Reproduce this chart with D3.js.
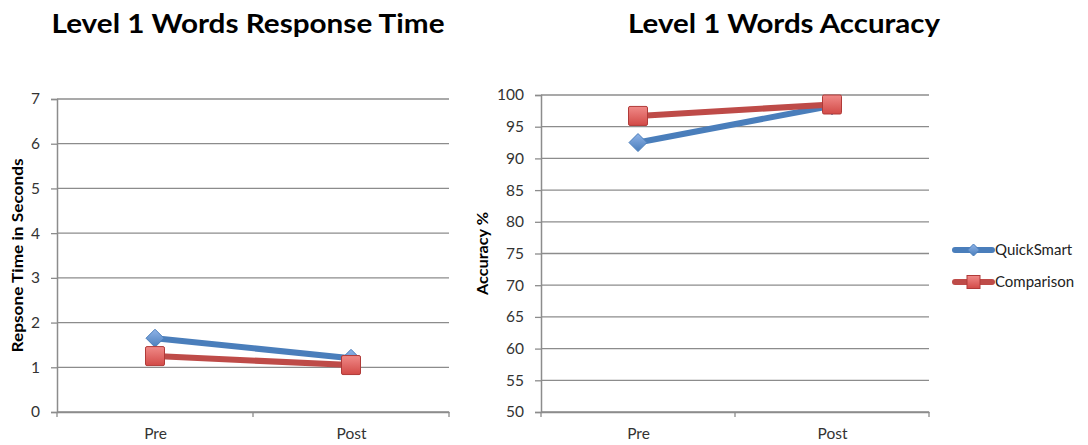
<!DOCTYPE html>
<html>
<head>
<meta charset="utf-8">
<script src="https://cdn.jsdelivr.net/npm/d3@7/dist/d3.min.js"></script>
<style>
  html, body { margin: 0; padding: 0; background: #fff; }
  svg { display: block; }
  text { font-family: Lato, "Open Sans", sans-serif; }
</style>
</head>
<body>
<svg id="chart" width="1088" height="445"></svg>
<script>
// Data
const phases = ["Pre", "Post"];
const seriesNames = ["QuickSmart", "Comparison"];
const rtQuickSmart = [1.65, 1.2];
const rtComparison = [1.25, 1.05];
const accQuickSmart = [92.5, 98.3];
const accComparison = [96.7, 98.5];
const rtTicks = [0, 1, 2, 3, 4, 5, 6, 7];
const accTicks = [50, 55, 60, 65, 70, 75, 80, 85, 90, 95, 100];

const colors = { QuickSmart: "#4a7ebb", Comparison: "#be4b48" };

const svg = d3.select("#chart");

// gradients for markers
const defs = svg.append("defs");
const gRed = defs.append("linearGradient").attr("id", "gRed").attr("x1", 0).attr("y1", 0).attr("x2", 0).attr("y2", 1);
gRed.append("stop").attr("offset", "0%").attr("stop-color", "#f08a88");
gRed.append("stop").attr("offset", "100%").attr("stop-color", "#d24a47");
const gBlue = defs.append("linearGradient").attr("id", "gBlue").attr("x1", 0).attr("y1", 0).attr("x2", 0).attr("y2", 1);
gBlue.append("stop").attr("offset", "0%").attr("stop-color", "#8fb3e8");
gBlue.append("stop").attr("offset", "100%").attr("stop-color", "#4a7ebb");

function drawPanel(opts) {
  const { left, right, top, bottom, domain, ticks, series, title, titleX, titleW, yLabel, yLabelX, yLabelW } = opts;
  const g = svg.append("g");

  const x = d3.scalePoint().domain(phases).range([left, right]).padding(0.5);
  const y = d3.scaleLinear().domain(domain).range([bottom, top]);

  // gridlines
  g.selectAll("line.grid").data(ticks).join("line")
    .attr("x1", left).attr("x2", right)
    .attr("y1", d => y(d)).attr("y2", d => y(d))
    .attr("stroke", "#8c8c8c").attr("stroke-width", 1.3);

  // y axis
  const yAxis = d3.axisLeft(y).tickValues(ticks).tickSize(6).tickPadding(11).tickFormat(d3.format("d"));
  const ya = g.append("g").attr("transform", `translate(${left},0)`).call(yAxis);
  ya.select(".domain").attr("stroke", "#8c8c8c").attr("stroke-width", 1.5);
  ya.selectAll(".tick line").attr("stroke", "#8c8c8c").attr("stroke-width", 1.3);
  ya.selectAll(".tick text").attr("fill", "#333").style("font-size", "15.5px").style("font-family", "Lato, 'Open Sans', sans-serif");

  // x axis
  const xAxis = d3.axisBottom(x).tickSize(0).tickPadding(16);
  const xa = g.append("g").attr("transform", `translate(0,${bottom})`).call(xAxis);
  xa.select(".domain").attr("stroke", "#8c8c8c").attr("stroke-width", 1.5);
  xa.selectAll(".tick text").attr("fill", "#333").style("font-size", "15.5px").style("font-family", "Lato, 'Open Sans', sans-serif");
  // category separator ticks
  const step = x.step();
  const seps = [left, left + step, right];
  g.selectAll("line.sep").data(seps).join("line")
    .attr("x1", d => d).attr("x2", d => d)
    .attr("y1", bottom).attr("y2", bottom + 5)
    .attr("stroke", "#8c8c8c").attr("stroke-width", 1.3);

  // lines and markers
  const line = d3.line().x((d, i) => x(phases[i])).y(d => y(d));
  series.forEach(s => {
    g.append("path").datum(s.values)
      .attr("d", line).attr("fill", "none")
      .attr("stroke", colors[s.name]).attr("stroke-width", 6).attr("stroke-linecap", "round");
  });
  series.forEach(s => {
    s.values.forEach((v, i) => {
      const cx = x(phases[i]), cy = y(v);
      if (s.name === "QuickSmart") {
        const r = 9;
        g.append("path")
          .attr("d", `M${cx},${cy - r}L${cx + r},${cy}L${cx},${cy + r}L${cx - r},${cy}Z`)
          .attr("fill", "url(#gBlue)").attr("stroke", "#4a7ebb").attr("stroke-width", 1);
      } else {
        const h = 9.5;
        g.append("rect")
          .attr("x", cx - h).attr("y", cy - h).attr("width", 2 * h).attr("height", 2 * h).attr("rx", 1.5)
          .attr("fill", "url(#gRed)").attr("stroke", "#b03a38").attr("stroke-width", 1);
      }
    });
  });

  // title
  svg.append("text").attr("x", titleX).attr("y", 33)
    .attr("text-anchor", "middle")
    .attr("textLength", titleW).attr("lengthAdjust", "spacingAndGlyphs")
    .style("font-size", "26px").style("font-weight", "bold").attr("fill", "#000")
    .text(title);

  // y label
  svg.append("text")
    .attr("transform", `translate(${yLabelX},${(top + bottom) / 2}) rotate(-90)`)
    .attr("text-anchor", "middle")
    .attr("textLength", yLabelW).attr("lengthAdjust", "spacingAndGlyphs")
    .style("font-size", "15px").style("font-weight", "bold").attr("fill", "#000")
    .text(yLabel);
}

drawPanel({
  left: 57, right: 449, top: 99, bottom: 412,
  domain: [0, 7], ticks: rtTicks,
  series: [{ name: "QuickSmart", values: rtQuickSmart }, { name: "Comparison", values: rtComparison }],
  title: "Level 1 Words Response Time", titleX: 248, titleW: 393,
  yLabel: "Repsone Time in Seconds", yLabelX: 23, yLabelW: 194
});

drawPanel({
  left: 541, right: 929, top: 95, bottom: 412,
  domain: [50, 100], ticks: accTicks,
  series: [{ name: "QuickSmart", values: accQuickSmart }, { name: "Comparison", values: accComparison }],
  title: "Level 1 Words Accuracy", titleX: 784, titleW: 312,
  yLabel: "Accuracy %", yLabelX: 488, yLabelW: 83
});

// legend
const legend = svg.append("g");
seriesNames.forEach((name, i) => {
  const ly = 250 + i * 32;
  legend.append("line").attr("x1", 955).attr("x2", 992).attr("y1", ly).attr("y2", ly)
    .attr("stroke", colors[name]).attr("stroke-width", 6).attr("stroke-linecap", "round");
  const cx = 973.5;
  if (name === "QuickSmart") {
    const r = 6;
    legend.append("path").attr("d", `M${cx},${ly - r}L${cx + r},${ly}L${cx},${ly + r}L${cx - r},${ly}Z`)
      .attr("fill", "url(#gBlue)").attr("stroke", "#4a7ebb");
  } else {
    const h = 6.5;
    legend.append("rect").attr("x", cx - h).attr("y", ly - h).attr("width", 2 * h).attr("height", 2 * h)
      .attr("fill", "url(#gRed)").attr("stroke", "#b03a38");
  }
  legend.append("text").attr("x", 995).attr("y", ly + 5)
    .style("font-size", "15px").attr("fill", "#222").text(name);
});
</script>
</body>
</html>
